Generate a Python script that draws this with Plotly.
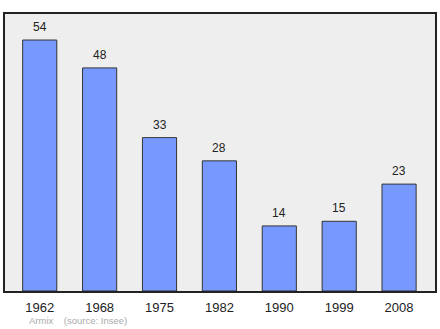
import plotly.graph_objects as go

years = ["1962", "1968", "1975", "1982", "1990", "1999", "2008"]
population = [54, 48, 33, 28, 14, 15, 23]

fig = go.Figure()
fig.add_trace(go.Bar(
    x=years, y=population, width=0.57,
    marker=dict(color="#7799ff", line=dict(color="#333333", width=1)),
    hoverinfo="skip",
))
for i, v in enumerate(population):
    fig.add_annotation(x=i, y=v, xref="x", yref="y", text=str(v), showarrow=False, yshift=13,
                       font=dict(family="Liberation Sans, Arial, sans-serif", size=12, color="#222222"))
fig.add_annotation(xref="paper", yref="paper", x=0.05, y=-0.108, xanchor="left", yanchor="middle",
                   text="Armix &nbsp;&nbsp;&nbsp;(source: Insee)", showarrow=False,
                   font=dict(family="Liberation Sans, Arial, sans-serif", size=9.5, color="#aaaaaa"))
fig.update_layout(
    width=440, height=329,
    margin=dict(l=5, r=3, t=14, b=38),
    paper_bgcolor="white", plot_bgcolor="#eeeeee",
    showlegend=False,
    xaxis=dict(type="category", range=[-0.58, 6.6], showline=True, mirror=True, linecolor="#222222", linewidth=1.5,
               ticks="", showgrid=False, ticklabelstandoff=4,
               tickfont=dict(family="Liberation Sans, Arial, sans-serif", size=13, color="#222222")),
    yaxis=dict(range=[0, 59.6], showline=True, mirror=True, linecolor="#222222", linewidth=1.5,
               showticklabels=False, ticks="", showgrid=False, zeroline=False),
)
fig.write_html("out.html")
